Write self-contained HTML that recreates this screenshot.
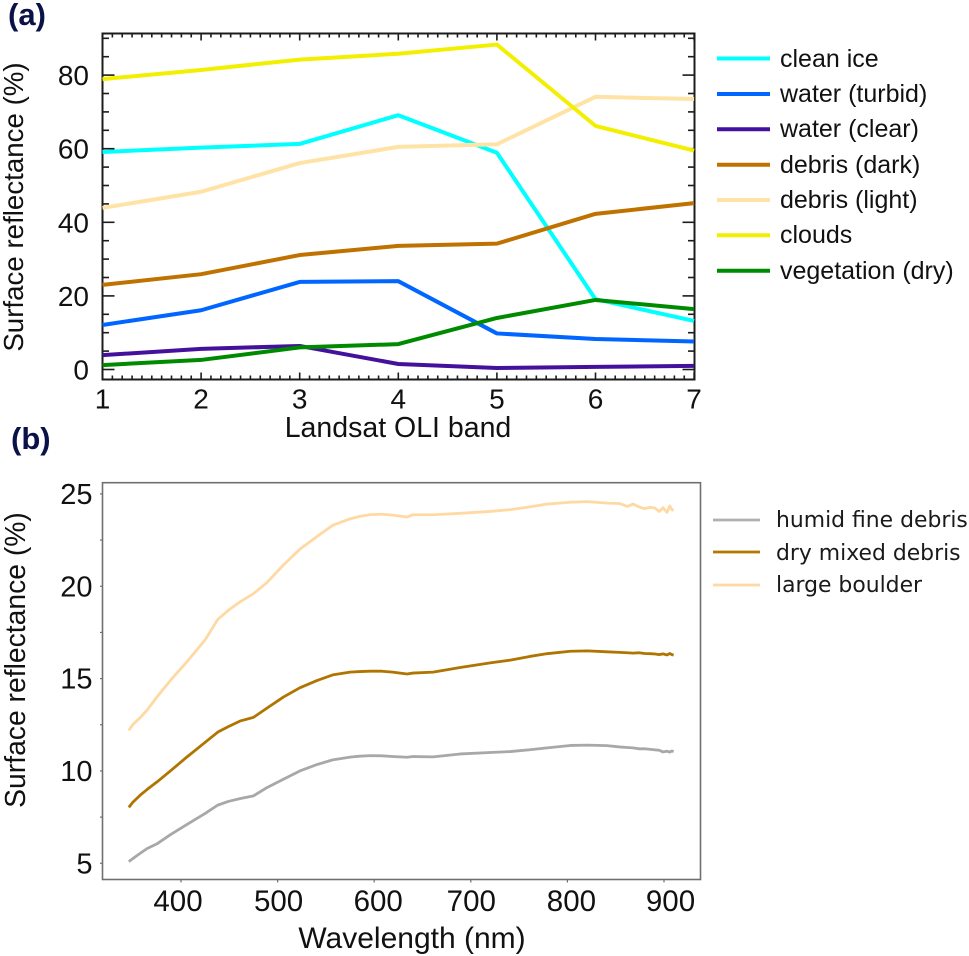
<!DOCTYPE html>
<html lang="en">
<head>
<meta charset="utf-8">
<title>Surface reflectance charts</title>
<style>
  html, body { margin: 0; padding: 0; background: #fff; }
  body { width: 969px; height: 956px; overflow: hidden; }
  svg { display: block; }
  text { font-family: "Liberation Sans", sans-serif; fill: #111; }
  .leg-b { font-family: "DejaVu Sans", sans-serif; font-size: 21.9px; fill: #1a1a1a; }
  .leg-a { font-size: 25px; }
  .panel { font-weight: bold; font-size: 31px; fill: #0b1247; }
</style>
</head>
<body>
<svg id="fig" xmlns="http://www.w3.org/2000/svg" width="969" height="956" viewBox="0 0 969 956">
  <text class="panel" x="8" y="25">(a)</text>
  <text class="panel" x="11" y="449">(b)</text>

  <text x="398" y="437" text-anchor="middle" font-size="28.5">Landsat OLI band</text>
  <text transform="translate(23,207) rotate(-90)" text-anchor="middle" font-size="27.7">Surface reflectance (%)</text>
  <text x="412" y="948" text-anchor="middle" font-size="30">Wavelength (nm)</text>
  <text transform="translate(25,660) rotate(-90)" text-anchor="middle" font-size="28.3">Surface reflectance (%)</text>

  <g id="plot-a"></g>
  <g id="plot-b"></g>

  <g>
    <g><line x1="717" x2="770" y1="58.5" y2="58.5" stroke="#00ffff" stroke-width="4"/><text class="leg-a" x="780" y="67">clean ice</text></g>
    <g><line x1="717" x2="770" y1="94" y2="94" stroke="#0066ff" stroke-width="4"/><text class="leg-a" x="780" y="102">water (turbid)</text></g>
    <g><line x1="717" x2="770" y1="129.3" y2="129.3" stroke="#44119c" stroke-width="4"/><text class="leg-a" x="780" y="137">water (clear)</text></g>
    <g><line x1="717" x2="770" y1="164.7" y2="164.7" stroke="#bf7200" stroke-width="4"/><text class="leg-a" x="780" y="173">debris (dark)</text></g>
    <g><line x1="717" x2="770" y1="200" y2="200" stroke="#ffe3a6" stroke-width="4"/><text class="leg-a" x="780" y="208">debris (light)</text></g>
    <g><line x1="717" x2="770" y1="235.3" y2="235.3" stroke="#f2ef00" stroke-width="4"/><text class="leg-a" x="780" y="243">clouds</text></g>
    <g><line x1="717" x2="770" y1="270.7" y2="270.7" stroke="#008a00" stroke-width="4"/><text class="leg-a" x="780" y="279">vegetation (dry)</text></g>
  </g>

  <g>
    <g><line x1="713" x2="760" y1="520" y2="520" stroke="#b0b0b0" stroke-width="2.8"/><text class="leg-b" x="776" y="527">humid fine debris</text></g>
    <g><line x1="713" x2="760" y1="552" y2="552" stroke="#b57700" stroke-width="2.8"/><text class="leg-b" x="776" y="560">dry mixed debris</text></g>
    <g><line x1="713" x2="760" y1="585" y2="585" stroke="#ffd9a3" stroke-width="2.8"/><text class="leg-b" x="776" y="592">large boulder</text></g>
  </g>
</svg>

<script>
// ---- Panel (a) data ----
const bands = [1, 2, 3, 4, 5, 6, 7];
const cleanIce = [59.1, 60.3, 61.3, 69.1, 58.9, 19.1, 13.2];
const waterTurbid = [12.1, 16.1, 23.8, 24.0, 9.8, 8.3, 7.6];
const waterClear = [3.9, 5.6, 6.4, 1.5, 0.4, 0.7, 1.0];
const debrisDark = [23.0, 25.9, 31.1, 33.6, 34.2, 42.3, 45.2];
const debrisLight = [43.9, 48.3, 56.1, 60.5, 61.2, 74.1, 73.5];
const clouds = [78.9, 81.4, 84.2, 85.8, 88.3, 66.2, 59.5];
const vegetationDry = [1.2, 2.6, 6.0, 6.9, 14.0, 18.9, 16.4];
const yTicksA = [0, 20, 40, 60, 80];

// ---- Panel (b) data ----
const wavelengths = [346, 350, 358, 365, 375, 389, 406, 425, 438, 449, 461, 475, 489, 506, 523, 541, 557, 575, 585, 596, 608, 619, 634, 640, 661, 689, 720, 741, 761, 779, 803, 821, 841, 854, 862, 868, 874, 880, 886, 891, 895, 899, 903, 906, 908, 910];
const humidFine = [5.09, 5.25, 5.55, 5.8, 6.05, 6.55, 7.1, 7.7, 8.15, 8.35, 8.5, 8.65, 9.1, 9.55, 10.0, 10.35, 10.6, 10.75, 10.8, 10.83, 10.82, 10.78, 10.74, 10.78, 10.76, 10.92, 11.0, 11.05, 11.15, 11.25, 11.38, 11.4, 11.37, 11.3, 11.27, 11.25, 11.2, 11.2, 11.17, 11.14, 11.12, 11.03, 11.07, 11.02, 11.08, 11.05];
const dryMixed = [8.03, 8.3, 8.7, 9.0, 9.4, 10.0, 10.75, 11.55, 12.1, 12.4, 12.7, 12.9, 13.4, 14.0, 14.5, 14.9, 15.2, 15.35, 15.38, 15.4, 15.4, 15.35, 15.25, 15.3, 15.35, 15.6, 15.85, 16.0, 16.2, 16.35, 16.48, 16.5, 16.45, 16.42, 16.4, 16.38, 16.4, 16.36, 16.35, 16.33, 16.3, 16.34, 16.28, 16.36, 16.3, 16.27];
const largeBoulder = [12.2, 12.5, 12.9, 13.3, 14.0, 14.9, 15.9, 17.1, 18.2, 18.7, 19.15, 19.6, 20.2, 21.15, 22.0, 22.7, 23.3, 23.65, 23.78, 23.88, 23.9, 23.85, 23.75, 23.87, 23.87, 23.95, 24.05, 24.15, 24.3, 24.45, 24.55, 24.58, 24.5, 24.48, 24.32, 24.45, 24.3, 24.2, 24.28, 24.22, 24.05, 24.25, 24.0, 24.35, 24.15, 24.1];
const xTicksB = [400, 500, 600, 700, 800, 900];
const yTicksB = [5, 10, 15, 20, 25];

const NS = 'http://www.w3.org/2000/svg';
function mk(parent, tag, attrs) {
  const el = document.createElementNS(NS, tag);
  for (const k in attrs) el.setAttribute(k, attrs[k]);
  parent.appendChild(el);
  return el;
}
function pathFrom(xs, ys, xf, yf) {
  return xs.map((x, i) => (i ? 'L' : 'M') + xf(x).toFixed(2) + ' ' + yf(ys[i]).toFixed(2)).join(' ');
}

// ---- Panel (a) ----
const gA = document.getElementById('plot-a');
const ax = v => 102.5 + (v - 1) * 98.6;
const ay = v => 369.5 - v * 3.68;
const A = { l: 102.5, r: 694.5, t: 33.5, b: 379.5 };

const frameA = mk(gA, 'rect', { x: A.l, y: A.t, width: A.r - A.l, height: A.b - A.t, fill: 'none', stroke: '#1c1c1c', 'stroke-width': 2 });



const ticksA = mk(gA, 'g', { stroke: '#1c1c1c', 'stroke-width': 1.6 });


for (let i = 0; i <= 60; i++) {
  const x = ax(1 + i / 10);
  const len = i % 10 === 0 ? 7 : 4;
  mk(ticksA, 'line', { x1: x, x2: x, y1: A.b, y2: A.b - len });
  mk(ticksA, 'line', { x1: x, x2: x, y1: A.t, y2: A.t + len });
}
for (let v = 0; v <= 90; v += 5) {
  const y = ay(v);
  const len = v % 20 === 0 ? 12 : 6.5;
  mk(ticksA, 'line', { x1: A.l, x2: A.l + len, y1: y, y2: y });
  mk(ticksA, 'line', { x1: A.r, x2: A.r - len, y1: y, y2: y });
}
yTicksA.forEach(v => {
  const t = mk(gA, 'text', { x: 89, y: ay(v) + 10, 'text-anchor': 'end', 'font-size': 28 });
  t.textContent = v;
  
  
});
bands.forEach(v => {
  const t = mk(gA, 'text', { x: ax(v), y: 408.5, 'text-anchor': 'middle', 'font-size': 28 });
  t.textContent = v;
  
  
});

const seriesA = [
  ['line-clean-ice', cleanIce, '#00ffff'],
  ['line-water-turbid', waterTurbid, '#0066ff'],
  ['line-water-clear', waterClear, '#44119c'],
  ['line-debris-dark', debrisDark, '#bf7200'],
  ['line-debris-light', debrisLight, '#ffe3a6'],
  ['line-clouds', clouds, '#f2ef00'],
  ['line-vegetation-dry', vegetationDry, '#008a00']
];
seriesA.forEach(s => {
  const p = mk(gA, 'path', { d: pathFrom(bands, s[1], ax, ay), fill: 'none', stroke: s[2], 'stroke-width': 4, 'stroke-linejoin': 'round' });
  
  
});

// ---- Panel (b) ----
const gB = document.getElementById('plot-b');
const bx = w => 181 + (w - 400) * 0.966;
const by = v => 863.3 - (v - 5) * 18.47;
const B = { l: 102.5, r: 700.5, t: 482.7, b: 879.5 };
// The reference's hand-placed tick labels sit slightly off their ticks.
const labelShiftB = { 400: -3, 500: 1, 600: 4, 700: 0.5, 800: 4, 900: 6.5 };

const frameB = mk(gB, 'rect', { x: B.l, y: B.t, width: B.r - B.l, height: B.b - B.t, fill: 'none', stroke: '#6f6f6f', 'stroke-width': 1.6 });



const ticksB = mk(gB, 'g', { stroke: '#6f6f6f', 'stroke-width': 1.2 });


xTicksB.forEach(w => {
  mk(ticksB, 'line', { x1: bx(w), x2: bx(w), y1: B.b, y2: B.b + 3 });
});
for (let v = 5; v <= 25; v += 2.5) {
  mk(ticksB, 'line', { x1: B.l, x2: B.l - 2.5, y1: by(v), y2: by(v) });
}
yTicksB.forEach(v => {
  const t = mk(gB, 'text', { x: 92.5, y: by(v) + 10, 'text-anchor': 'end', 'font-size': 29 });
  t.textContent = v;
  
  
});
xTicksB.forEach(w => {
  const t = mk(gB, 'text', { x: bx(w) + (labelShiftB[w] || 0), y: 911, 'text-anchor': 'middle', 'font-size': 29.5 });
  t.textContent = w;
  
  
});

const seriesB = [
  ['line-humid-fine-debris', humidFine, '#a8a8a8'],
  ['line-dry-mixed-debris', dryMixed, '#b07400'],
  ['line-large-boulder', largeBoulder, '#ffd9a3']
];
seriesB.forEach(s => {
  const p = mk(gB, 'path', { d: pathFrom(wavelengths, s[1], bx, by), fill: 'none', stroke: s[2], 'stroke-width': 2.8, 'stroke-linejoin': 'round' });
  
  
});
</script>
</body>
</html>
